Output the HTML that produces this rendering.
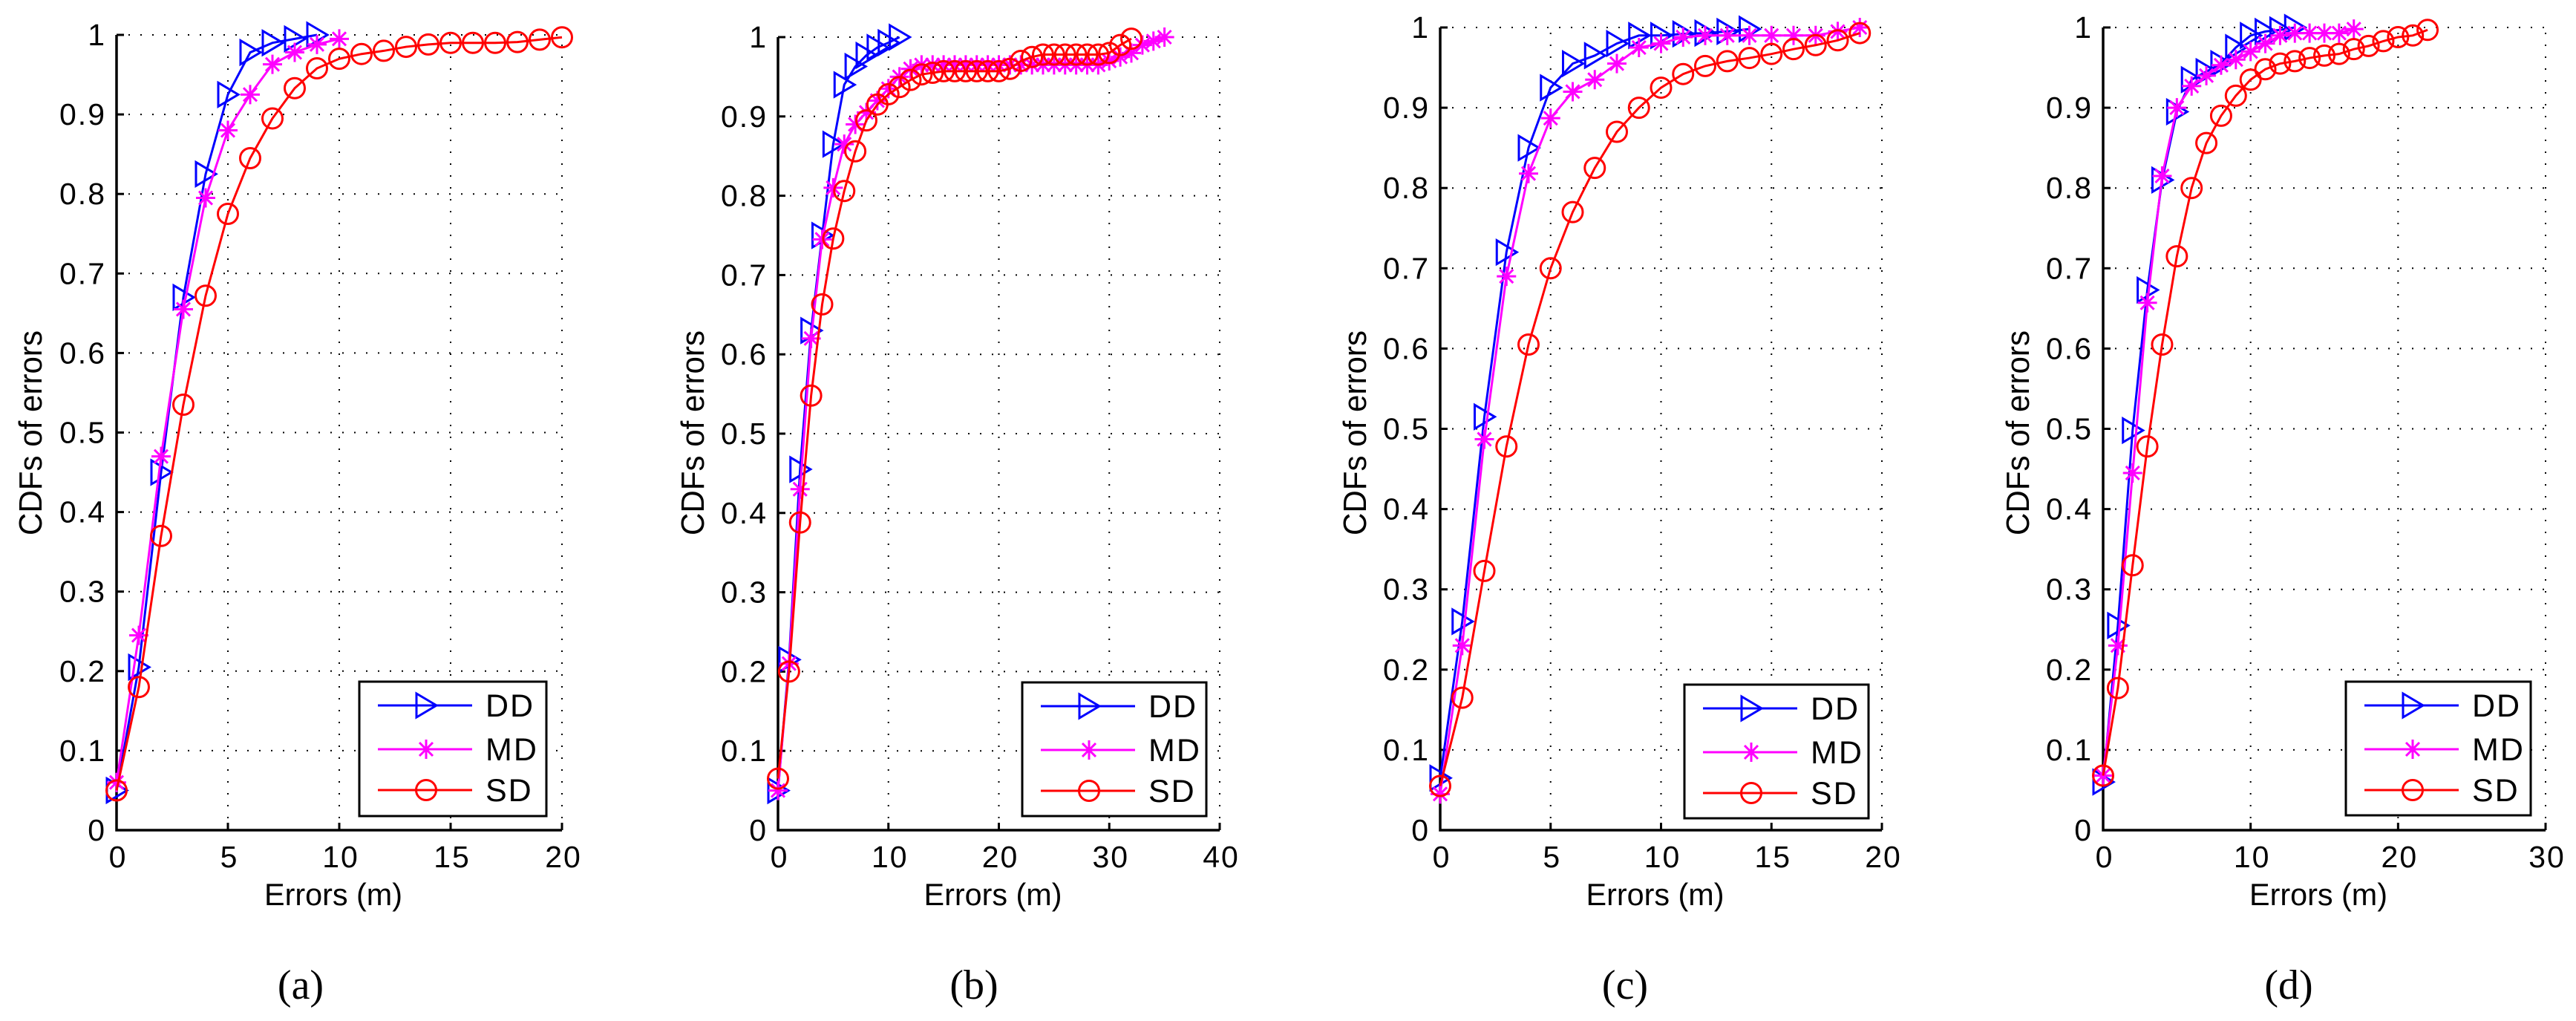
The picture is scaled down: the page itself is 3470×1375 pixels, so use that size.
<!DOCTYPE html>
<html><head><meta charset="utf-8"><style>
html,body{margin:0;padding:0;background:#fff;}
svg{display:block;}
text{font-family:"Liberation Sans",Arial,sans-serif;fill:#000;}
</style></head><body>
<svg id="fig" width="3470" height="1375" viewBox="0 0 3470 1375" xmlns="http://www.w3.org/2000/svg"></svg>
<script>
// ---- data ----
const yTicks = [0,0.1,0.2,0.3,0.4,0.5,0.6,0.7,0.8,0.9,1];
const yTickLabels = ["0","0.1","0.2","0.3","0.4","0.5","0.6","0.7","0.8","0.9","1"];
const seriesNames = ["DD","MD","SD"];
const panelLabels = ["(a)","(b)","(c)","(d)"];
const xMaxA = 20, xMaxB = 40, xMaxC = 20, xMaxD = 30;
const xTicksA = [0,5,10,15,20];
const xTicksB = [0,10,20,30,40];
const xTicksC = [0,5,10,15,20];
const xTicksD = [0,10,20,30];
const ddA = [0.05,0.205,0.45,0.67,0.825,0.925,0.978,0.99,0.995,1.0];
const mdA = [0.06,0.245,0.47,0.655,0.795,0.88,0.925,0.963,0.978,0.988,0.995];
const sdA = [0.05,0.18,0.37,0.535,0.672,0.775,0.845,0.895,0.933,0.958,0.97,0.976,0.98,0.985,0.988,0.99,0.99,0.99,0.991,0.994,0.997];
const ddB = [0.05,0.215,0.455,0.63,0.75,0.865,0.94,0.963,0.977,0.987,0.993,1.0];
const mdB = [0.05,0.21,0.43,0.62,0.745,0.81,0.865,0.89,0.905,0.92,0.935,0.95,0.96,0.965,0.965,0.965,0.965,0.965,0.965,0.965,0.965,0.965,0.965,0.965,0.965,0.965,0.965,0.965,0.965,0.965,0.97,0.975,0.98,0.99,0.995,1.0];
const sdB = [0.065,0.2,0.388,0.548,0.663,0.746,0.806,0.856,0.895,0.915,0.928,0.937,0.946,0.953,0.955,0.957,0.957,0.957,0.957,0.957,0.957,0.96,0.97,0.975,0.978,0.978,0.978,0.978,0.978,0.978,0.98,0.99,0.998];
const ddC = [0.065,0.26,0.515,0.72,0.85,0.925,0.955,0.965,0.98,0.99,0.99,0.992,0.993,0.995,0.998];
const mdC = [0.045,0.23,0.487,0.69,0.818,0.887,0.92,0.935,0.955,0.975,0.98,0.988,0.99,0.99,0.99,0.99,0.99,0.99,0.995,1.0];
const sdC = [0.055,0.165,0.323,0.478,0.605,0.7,0.77,0.825,0.87,0.9,0.925,0.942,0.952,0.958,0.962,0.967,0.973,0.978,0.984,0.993];
const ddD = [0.06,0.255,0.498,0.673,0.81,0.895,0.935,0.945,0.955,0.975,0.99,0.995,0.997,1.0];
const mdD = [0.068,0.23,0.445,0.657,0.815,0.9,0.927,0.94,0.953,0.96,0.97,0.98,0.99,0.993,0.993,0.993,0.993,0.998];
const sdD = [0.068,0.177,0.33,0.478,0.605,0.715,0.8,0.856,0.89,0.915,0.935,0.948,0.955,0.958,0.962,0.965,0.967,0.973,0.977,0.983,0.988,0.99,0.997];

// ---- layout ----
const panels = [
 {x0:157,x1:757,y0:1118,y1:47,xmax:xMaxA,xt:xTicksA,s:[ddA,mdA,sdA],lg:[484,918,736,1099],yl:40,cap:405},
 {x0:1048,x1:1643,y0:1118,y1:50,xmax:xMaxB,xt:xTicksB,s:[ddB,mdB,sdB],lg:[1377,919,1625,1099],yl:932,cap:1312},
 {x0:1940,x1:2535,y0:1118,y1:37,xmax:xMaxC,xt:xTicksC,s:[ddC,mdC,sdC],lg:[2269,922,2517,1102],yl:1824,cap:2189},
 {x0:2833,x1:3429,y0:1118,y1:37,xmax:xMaxD,xt:xTicksD,s:[ddD,mdD,sdD],lg:[3160,918,3409,1098],yl:2717,cap:3083}
];
const colors = ["#0000ff","#ff00ff","#ff0000"];
const NS = "http://www.w3.org/2000/svg";
const svg = document.getElementById("fig");
function mk(tag, attrs, parent){
  const e = document.createElementNS(NS, tag);
  for (const k in attrs) e.setAttribute(k, attrs[k]);
  (parent||svg).appendChild(e);
  return e;
}
function marker(g, type, cx, cy, col){
  if (type===0){
    const m = mk("polygon",{points:`${cx-13},${cy-16} ${cx+14},${cy} ${cx-13},${cy+16}`,fill:"none",stroke:col,"stroke-width":3},g);
    
    
  } else if (type===1){
    const m = mk("path",{d:`M${cx-13},${cy}H${cx+13}M${cx},${cy-13}V${cy+13}M${cx-9},${cy-9}L${cx+9},${cy+9}M${cx-9},${cy+9}L${cx+9},${cy-9}`,stroke:col,"stroke-width":3,fill:"none"},g);
    
    
  } else {
    const m = mk("circle",{cx:cx,cy:cy,r:13.5,fill:"none",stroke:col,"stroke-width":3},g);
    
    
  }
}
panels.forEach((p,pi)=>{
  const g = mk("g",{});
  
  
  const X = v => p.x0 + (p.x1-p.x0)*v/p.xmax;
  const Y = v => p.y0 - (p.y0-p.y1)*v;
  // grid
  yTicks.forEach((t,i)=>{
    if (i>0){
      const l = mk("line",{x1:p.x0,x2:p.x1,y1:Y(t),y2:Y(t),stroke:"#000","stroke-width":2,"stroke-dasharray":"2 14"},g);
      
      
    }
    const tk = mk("line",{x1:p.x0,x2:p.x0+10,y1:Y(t),y2:Y(t),stroke:"#000","stroke-width":3},g);
    
    
    const tx = mk("text",{x:p.x0-14,y:Y(t)+14,"text-anchor":"end","font-size":41,"letter-spacing":"2"},g);
    tx.textContent = yTickLabels[i];
    
    
  });
  p.xt.forEach((t,i)=>{
    if (i>0){
      const l = mk("line",{x1:X(t),x2:X(t),y1:p.y0,y2:p.y1,stroke:"#000","stroke-width":2,"stroke-dasharray":"2 14"},g);
      
      
    }
    const tk = mk("line",{x1:X(t),x2:X(t),y1:p.y0,y2:p.y0-10,stroke:"#000","stroke-width":3},g);
    
    
    const tx = mk("text",{x:X(t)+2,y:1168,"text-anchor":"middle","font-size":41,"letter-spacing":"2"},g);
    tx.textContent = String(t);
    
    
  });
  const ax = mk("path",{d:`M${p.x0},${p.y1}V${p.y0}H${p.x1}`,stroke:"#000","stroke-width":3.5,fill:"none"},g);
  
  
  // series
  p.s.forEach((arr,si)=>{
    const sg = mk("g",{},g);
    
    
    const pts = arr.map((v,i)=>X(i)+","+Y(v)).join(" ");
    const pl = mk("polyline",{points:pts,fill:"none",stroke:colors[si],"stroke-width":3},sg);
    
    
    arr.forEach((v,i)=>marker(sg,si,X(i),Y(v),colors[si]));
  });
  // labels
  const yl = mk("text",{x:0,y:0,transform:`translate(${p.yl+16},583) rotate(-90)`,"text-anchor":"middle","font-size":44,textLength:276,lengthAdjust:"spacingAndGlyphs"},g);
  yl.textContent = "CDFs of errors";
  
  
  const xl = mk("text",{x:(p.x0+p.x1)/2-8,y:1219,"text-anchor":"middle","font-size":42,textLength:186,lengthAdjust:"spacingAndGlyphs"},g);
  xl.textContent = "Errors (m)";
  
  
  const cp = mk("text",{x:p.cap,y:1345,"text-anchor":"middle","font-size":56,"font-family":"Liberation Serif, serif"},g);
  cp.setAttribute("style","font-family:'Liberation Serif',serif");
  cp.textContent = panelLabels[pi];
  
  
  // legend
  const [lx0,ly0,lx1,ly1] = p.lg;
  const lg = mk("g",{},g);
  
  
  mk("rect",{x:lx0,y:ly0,width:lx1-lx0,height:ly1-ly0,fill:"#fff",stroke:"#000","stroke-width":3},lg);
  const rows = [ly0+32, ly0+91, ly0+146];
  seriesNames.forEach((n,si)=>{
    const e = mk("g",{},lg);
    
    
    mk("line",{x1:lx0+25,x2:lx0+152,y1:rows[si],y2:rows[si],stroke:colors[si],"stroke-width":3},e);
    marker(e,si,lx0+90,rows[si],colors[si]);
    const t = mk("text",{x:lx0+170,y:rows[si]+15,"font-size":43,"letter-spacing":"2"},e);
    t.textContent = n;
  });
});
</script>
</body></html>
